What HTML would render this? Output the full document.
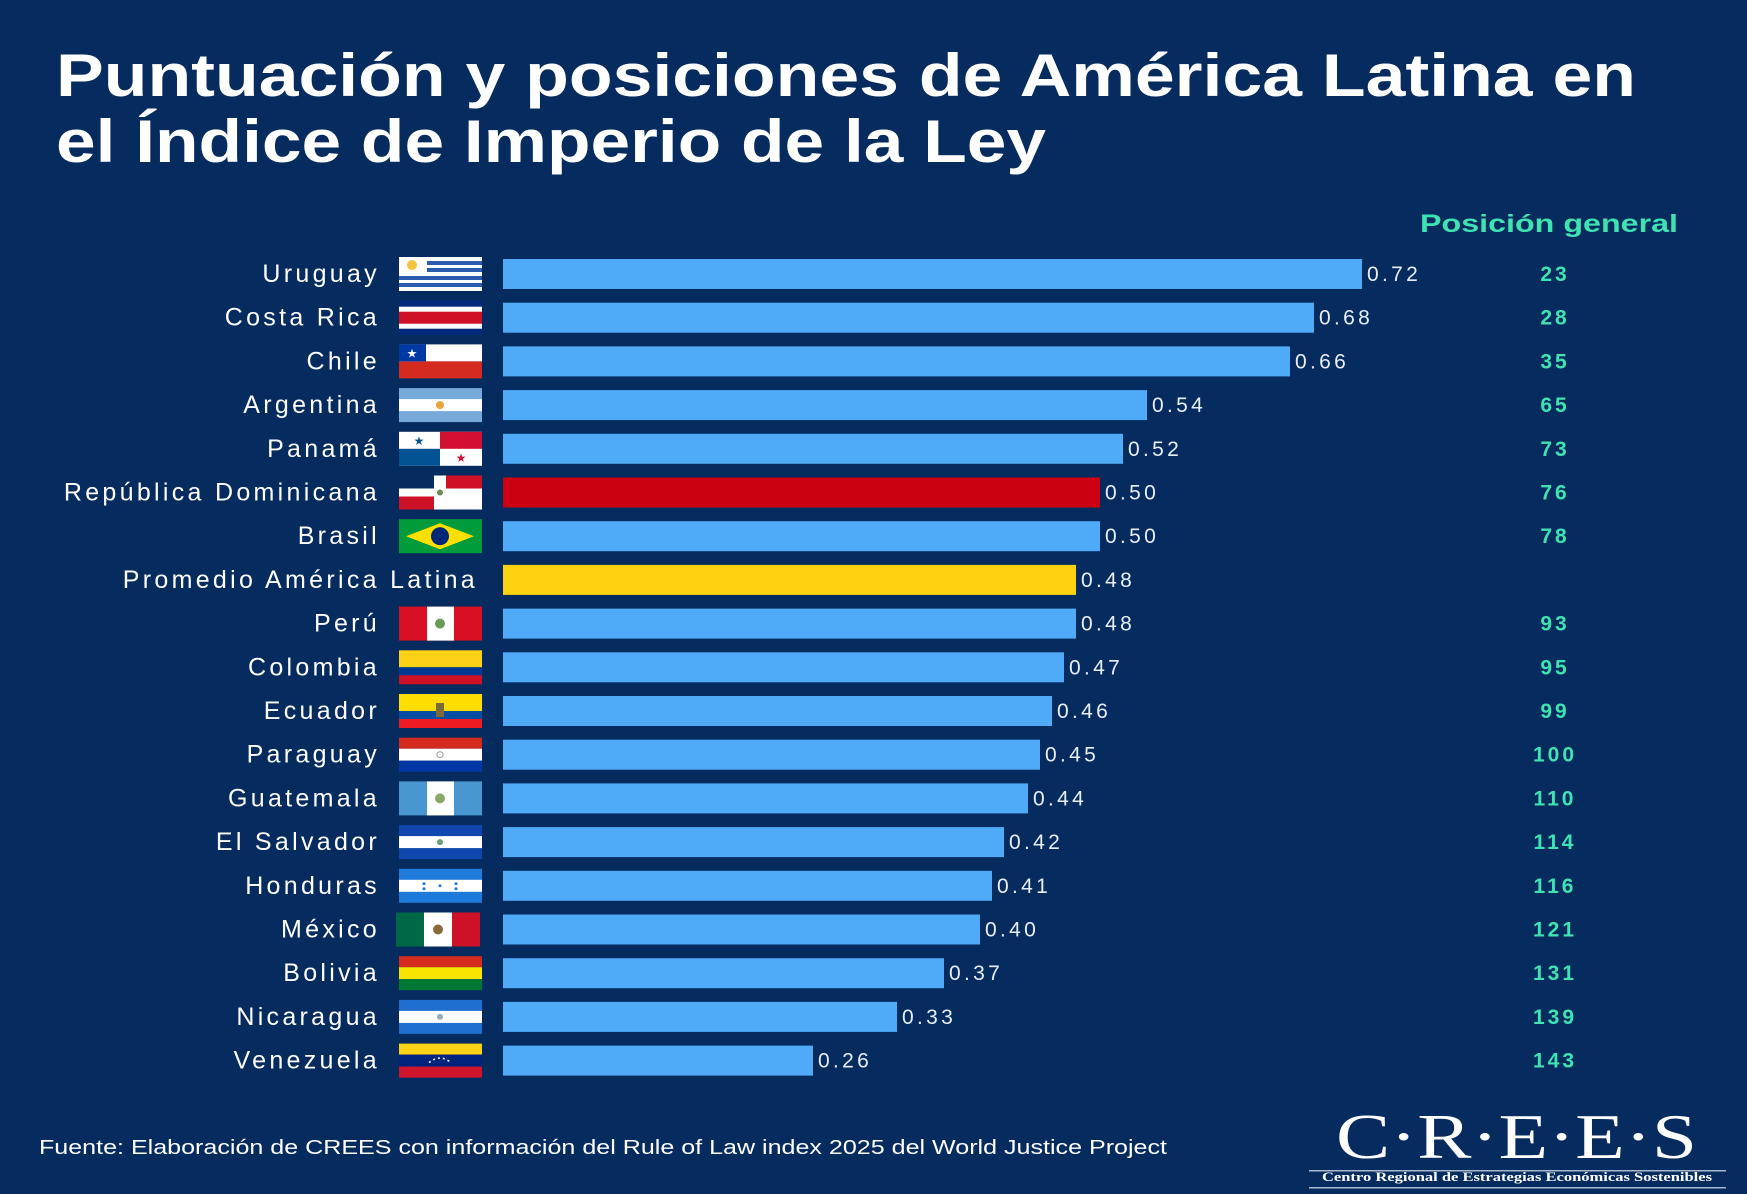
<!DOCTYPE html>
<html><head><meta charset="utf-8"><style>
html,body{margin:0;padding:0;background:#062b5e;}
svg{display:block;}
text{font-family:"Liberation Sans",sans-serif;}
.lbl{fill:#fff;font-size:25px;text-anchor:end;letter-spacing:3.3px;}
.val{fill:#e8eef8;font-size:21px;letter-spacing:3.3px;}
.pos{fill:#3fe3b2;font-size:21px;font-weight:bold;text-anchor:middle;letter-spacing:3px;}
.serif{font-family:"Liberation Serif",serif;}
</style></head><body>
<svg width="1747" height="1194" viewBox="0 0 1747 1194" xmlns="http://www.w3.org/2000/svg">
<rect width="1747" height="1194" fill="#062b5e"/>
<text x="56" y="96" fill="#fff" font-size="60" font-weight="bold" textLength="1580" lengthAdjust="spacingAndGlyphs">Puntuación y posiciones de América Latina en</text>
<text x="56" y="162" fill="#fff" font-size="60" font-weight="bold" textLength="990" lengthAdjust="spacingAndGlyphs">el Índice de Imperio de la Ley</text>
<text x="1420" y="232" fill="#3fe3b2" font-size="25" font-weight="bold" textLength="258" lengthAdjust="spacingAndGlyphs">Posición general</text>

<g transform="translate(0,274)">
<text class="lbl" x="380" y="8">Uruguay</text>
<g transform="translate(399,-17)"><rect width="83" height="34" fill="#fff"/><rect x="28" y="4" width="55" height="4" fill="#2a5db0"/><rect x="28" y="11" width="55" height="4" fill="#2a5db0"/><rect y="19" width="83" height="4" fill="#2a5db0"/><rect y="26" width="83" height="4" fill="#2a5db0"/><circle cx="13" cy="8" r="5" fill="#f5c33b"/></g>
<rect x="503" y="-15" width="859" height="30" fill="#4faaf7"/>
<text class="val" x="1367" y="7">0.72</text><text class="pos" x="1555" y="7">23</text></g>
<g transform="translate(0,317.7)">
<text class="lbl" x="380" y="8">Costa Rica</text>
<g transform="translate(399,-17)"><rect width="83" height="34" fill="#002b7f"/><rect y="6" width="83" height="22" fill="#fff"/><rect y="11" width="83" height="12" fill="#ce1126"/></g>
<rect x="503" y="-15" width="811" height="30" fill="#4faaf7"/>
<text class="val" x="1319" y="7">0.68</text><text class="pos" x="1555" y="7">28</text></g>
<g transform="translate(0,361.4)">
<text class="lbl" x="380" y="8">Chile</text>
<g transform="translate(399,-17)"><rect width="83" height="17" fill="#fff"/><rect y="17" width="83" height="17" fill="#d52b1e"/><rect width="27" height="17" fill="#0039a6"/><text x="13" y="13" fill="#fff" font-size="12" text-anchor="middle">★</text></g>
<rect x="503" y="-15" width="787" height="30" fill="#4faaf7"/>
<text class="val" x="1295" y="7">0.66</text><text class="pos" x="1555" y="7">35</text></g>
<g transform="translate(0,405.1)">
<text class="lbl" x="380" y="8">Argentina</text>
<g transform="translate(399,-17)"><rect width="83" height="34" fill="#75aadb"/><rect y="11" width="83" height="12" fill="#fff"/><circle cx="41" cy="17" r="4" fill="#e8a33b"/></g>
<rect x="503" y="-15" width="644" height="30" fill="#4faaf7"/>
<text class="val" x="1152" y="7">0.54</text><text class="pos" x="1555" y="7">65</text></g>
<g transform="translate(0,448.8)">
<text class="lbl" x="380" y="8">Panamá</text>
<g transform="translate(399,-17)"><rect width="83" height="34" fill="#fff"/><rect x="41" width="42" height="17" fill="#d21034"/><rect y="17" width="41" height="17" fill="#005293"/><text x="20" y="13" fill="#005293" font-size="12" text-anchor="middle">★</text><text x="62" y="30" fill="#d21034" font-size="12" text-anchor="middle">★</text></g>
<rect x="503" y="-15" width="620" height="30" fill="#4faaf7"/>
<text class="val" x="1128" y="7">0.52</text><text class="pos" x="1555" y="7">73</text></g>
<g transform="translate(0,492.5)">
<text class="lbl" x="380" y="8">República Dominicana</text>
<g transform="translate(399,-17)"><rect width="83" height="34" fill="#fff"/><rect x="0" y="21" width="35" height="13" fill="#ce1126"/><rect x="47" y="0" width="36" height="13" fill="#ce1126"/><rect x="0" y="0" width="35" height="13" fill="#062b5e"/><rect x="35" y="13" width="12" height="8" fill="#fff"/><circle cx="41" cy="17" r="3" fill="#6a8a5a"/></g>
<rect x="503" y="-15" width="597" height="30" fill="#cc0010"/>
<text class="val" x="1105" y="7">0.50</text><text class="pos" x="1555" y="7">76</text></g>
<g transform="translate(0,536.2)">
<text class="lbl" x="380" y="8">Brasil</text>
<g transform="translate(399,-17)"><rect width="83" height="34" fill="#009c3b"/><polygon points="41,4 75,17 41,30 7,17" fill="#ffdf00"/><circle cx="41" cy="17" r="9" fill="#002776"/></g>
<rect x="503" y="-15" width="597" height="30" fill="#4faaf7"/>
<text class="val" x="1105" y="7">0.50</text><text class="pos" x="1555" y="7">78</text></g>
<g transform="translate(0,579.9)">
<text class="lbl" x="478" y="8">Promedio América Latina</text>
<rect x="503" y="-15" width="573" height="30" fill="#ffd210"/>
<text class="val" x="1081" y="7">0.48</text></g>
<g transform="translate(0,623.6)">
<text class="lbl" x="380" y="8">Perú</text>
<g transform="translate(399,-17)"><rect width="83" height="34" fill="#d91023"/><rect x="28" width="27" height="34" fill="#fff"/><circle cx="41" cy="17" r="5" fill="#6a9a5a"/></g>
<rect x="503" y="-15" width="573" height="30" fill="#4faaf7"/>
<text class="val" x="1081" y="7">0.48</text><text class="pos" x="1555" y="7">93</text></g>
<g transform="translate(0,667.3)">
<text class="lbl" x="380" y="8">Colombia</text>
<g transform="translate(399,-17)"><rect width="83" height="17" fill="#fcd116"/><rect y="17" width="83" height="8" fill="#003893"/><rect y="25" width="83" height="9" fill="#ce1126"/></g>
<rect x="503" y="-15" width="561" height="30" fill="#4faaf7"/>
<text class="val" x="1069" y="7">0.47</text><text class="pos" x="1555" y="7">95</text></g>
<g transform="translate(0,711)">
<text class="lbl" x="380" y="8">Ecuador</text>
<g transform="translate(399,-17)"><rect width="83" height="17" fill="#ffdd00"/><rect y="17" width="83" height="8" fill="#034ea2"/><rect y="25" width="83" height="9" fill="#ed1c24"/><rect x="37" y="9" width="8" height="14" fill="#7a6a3a"/></g>
<rect x="503" y="-15" width="549" height="30" fill="#4faaf7"/>
<text class="val" x="1057" y="7">0.46</text><text class="pos" x="1555" y="7">99</text></g>
<g transform="translate(0,754.7)">
<text class="lbl" x="380" y="8">Paraguay</text>
<g transform="translate(399,-17)"><rect width="83" height="11" fill="#d52b1e"/><rect y="11" width="83" height="12" fill="#fff"/><rect y="23" width="83" height="11" fill="#0038a8"/><circle cx="41" cy="17" r="3" fill="none" stroke="#999" stroke-width="1"/></g>
<rect x="503" y="-15" width="537" height="30" fill="#4faaf7"/>
<text class="val" x="1045" y="7">0.45</text><text class="pos" x="1555" y="7">100</text></g>
<g transform="translate(0,798.4)">
<text class="lbl" x="380" y="8">Guatemala</text>
<g transform="translate(399,-17)"><rect width="83" height="34" fill="#4997d0"/><rect x="28" width="27" height="34" fill="#fff"/><circle cx="41" cy="17" r="5" fill="#8aa86a"/></g>
<rect x="503" y="-15" width="525" height="30" fill="#4faaf7"/>
<text class="val" x="1033" y="7">0.44</text><text class="pos" x="1555" y="7">110</text></g>
<g transform="translate(0,842.1)">
<text class="lbl" x="380" y="8">El Salvador</text>
<g transform="translate(399,-17)"><rect width="83" height="34" fill="#0f47af"/><rect y="11" width="83" height="12" fill="#fff"/><circle cx="41" cy="17" r="3" fill="#6a9a7a"/></g>
<rect x="503" y="-15" width="501" height="30" fill="#4faaf7"/>
<text class="val" x="1009" y="7">0.42</text><text class="pos" x="1555" y="7">114</text></g>
<g transform="translate(0,885.8)">
<text class="lbl" x="380" y="8">Honduras</text>
<g transform="translate(399,-17)"><rect width="83" height="34" fill="#1f7bd9"/><rect y="11" width="83" height="12" fill="#fff"/><circle cx="41" cy="17" r="1.5" fill="#1f7bd9"/><circle cx="25" cy="15" r="1.5" fill="#1f7bd9"/><circle cx="57" cy="15" r="1.5" fill="#1f7bd9"/><circle cx="25" cy="20" r="1.5" fill="#1f7bd9"/><circle cx="57" cy="20" r="1.5" fill="#1f7bd9"/></g>
<rect x="503" y="-15" width="489" height="30" fill="#4faaf7"/>
<text class="val" x="997" y="7">0.41</text><text class="pos" x="1555" y="7">116</text></g>
<g transform="translate(0,929.5)">
<text class="lbl" x="380" y="8">México</text>
<g transform="translate(396,-17)"><rect width="28" height="34" fill="#006847"/><rect x="28" width="28" height="34" fill="#fff"/><rect x="56" width="28" height="34" fill="#ce1126"/><circle cx="42" cy="17" r="5" fill="#8a6a3a"/></g>
<rect x="503" y="-15" width="477" height="30" fill="#4faaf7"/>
<text class="val" x="985" y="7">0.40</text><text class="pos" x="1555" y="7">121</text></g>
<g transform="translate(0,973.2)">
<text class="lbl" x="380" y="8">Bolivia</text>
<g transform="translate(399,-17)"><rect width="83" height="11" fill="#d52b1e"/><rect y="11" width="83" height="12" fill="#f9e300"/><rect y="23" width="83" height="11" fill="#007934"/></g>
<rect x="503" y="-15" width="441" height="30" fill="#4faaf7"/>
<text class="val" x="949" y="7">0.37</text><text class="pos" x="1555" y="7">131</text></g>
<g transform="translate(0,1016.9)">
<text class="lbl" x="380" y="8">Nicaragua</text>
<g transform="translate(399,-17)"><rect width="83" height="34" fill="#1f6fd0"/><rect y="11" width="83" height="12" fill="#fff"/><circle cx="41" cy="17" r="3" fill="#9ab"/></g>
<rect x="503" y="-15" width="394" height="30" fill="#4faaf7"/>
<text class="val" x="902" y="7">0.33</text><text class="pos" x="1555" y="7">139</text></g>
<g transform="translate(0,1060.6)">
<text class="lbl" x="380" y="8">Venezuela</text>
<g transform="translate(399,-17)"><rect width="83" height="11" fill="#fcd116"/><rect y="11" width="83" height="12" fill="#00247d"/><rect y="23" width="83" height="11" fill="#cf142b"/><path d="M30 19 Q41 10 52 19" fill="none" stroke="#fff" stroke-width="1.5" stroke-dasharray="2 3"/></g>
<rect x="503" y="-15" width="310" height="30" fill="#4faaf7"/>
<text class="val" x="818" y="7">0.26</text><text class="pos" x="1555" y="7">143</text></g>

<text x="39" y="1154" fill="#fff" font-size="20" textLength="1128" lengthAdjust="spacingAndGlyphs">Fuente: Elaboración de CREES con información del Rule of Law index 2025 del World Justice Project</text>
<text class="serif" x="1336" y="1158" fill="#fff" font-size="64" textLength="361" lengthAdjust="spacingAndGlyphs">C·R·E·E·S</text>
<rect x="1309" y="1170" width="417" height="1.5" fill="#aab8d0"/>
<text class="serif" x="1322" y="1181" fill="#fff" font-size="13" font-weight="bold" textLength="390" lengthAdjust="spacingAndGlyphs">Centro Regional de Estrategias Económicas Sostenibles</text>
<rect x="1309" y="1187" width="417" height="1.5" fill="#aab8d0"/>
</svg>
</body></html>
